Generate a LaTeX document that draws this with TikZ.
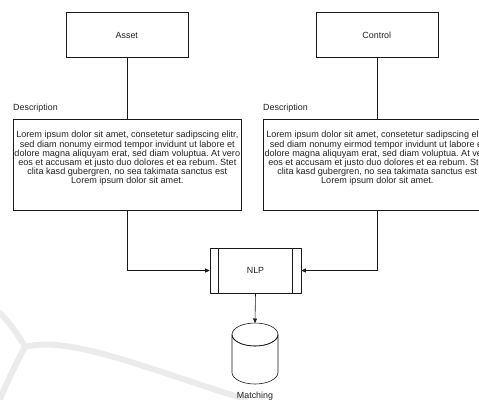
\documentclass[tikz,border=0pt]{standalone}
\usepackage{fontspec}
\setmainfont{Liberation Sans}
\usetikzlibrary{arrows.meta,shapes.geometric}
\definecolor{ln}{HTML}{1A1A1A}
\definecolor{tx}{HTML}{222222}
\definecolor{wm}{HTML}{EBEBEB}
\frenchspacing
\tikzset{
  every node/.style={font=\fontsize{8.9}{9.2}\selectfont, text=tx},
  boxshape/.style={draw=ln, line width=0.6pt, inner sep=0pt},
  descbox/.style={boxshape, minimum width=228pt, minimum height=91pt},
  desctext/.style={align=center, inner sep=0pt, font=\fontsize{9.1}{9.2}\selectfont},
  titlebox/.style={boxshape, minimum width=122pt, minimum height=45pt},
  lab/.style={anchor=west, inner sep=0pt},
  conn/.style={draw=ln, line width=0.6pt, -{Triangle[length=4.5pt,width=4pt]}},
  plain/.style={draw=ln, line width=0.6pt},
}
\begin{document}
\begin{tikzpicture}[x=1pt,y=1pt]
\useasboundingbox (0,0) rectangle (479,-399);
% faint watermark swoosh
\draw[wm, line width=6pt, line cap=round] (0,-313) .. controls (12,-325) and (20,-338) .. (25,-347);
\draw[wm, line width=6pt, line cap=round] (25,-347) .. controls (15,-365) and (6,-385) .. (0,-399);
\draw[wm, line width=6pt, line cap=round] (25,-347) .. controls (70,-335) and (150,-370) .. (245,-399);
% title boxes
\node[titlebox] (asset) at (126.8,-35) {Asset};
\node[titlebox] (control) at (376.8,-35) {Control};
% description labels
\node[lab] (d1) at (13,-108) {Description};
\node[lab] (d2) at (263,-108) {Description};
% description boxes
\node[descbox] (t1) at (127.3,-164.5) {};
\node[descbox] (t2) at (377.3,-164.5) {};
\node[desctext] (t1text) at (127.3,-158.5) {Lorem ipsum dolor sit amet, consetetur sadipscing elitr,\\sed diam nonumy eirmod tempor invidunt ut labore et\\dolore magna aliquyam erat, sed diam voluptua. At vero\\eos et accusam et justo duo dolores et ea rebum. Stet\\clita kasd gubergren, no sea takimata sanctus est\\Lorem ipsum dolor sit amet.};
\node[desctext] (t2text) at (377.3,-158.5) {Lorem ipsum dolor sit amet, consetetur sadipscing elitr,\\sed diam nonumy eirmod tempor invidunt ut labore et\\dolore magna aliquyam erat, sed diam voluptua. At vero\\eos et accusam et justo duo dolores et ea rebum. Stet\\clita kasd gubergren, no sea takimata sanctus est\\Lorem ipsum dolor sit amet.};
% NLP process box
\node[boxshape, minimum width=91pt, minimum height=45pt] (nlp) at (255.5,-270.5) {NLP};
\draw[plain] ([xshift=9pt]nlp.north west) -- ([xshift=9pt]nlp.south west);
\draw[plain] ([xshift=-9pt]nlp.north east) -- ([xshift=-9pt]nlp.south east);
% cylinder
\coordinate (cyltop) at (255,-323);
\draw[plain] (232,-334.5) -- (232,-372.5) arc[start angle=180,end angle=360,x radius=23,y radius=11.5] -- (278,-334.5)
  arc[start angle=0,end angle=360,x radius=23,y radius=11.5];
\draw[plain] (232,-334.5) arc[start angle=180,end angle=360,x radius=23,y radius=11.5];
\node (match) at (255,-396) {Matching};
% connectors
\draw[plain] (asset.south -| t1.north) -- (t1.north);
\draw[plain] (control.south -| t2.north) -- (t2.north);
\draw[conn] (t1.south) |- (nlp.west);
\draw[conn] (t2.south) |- (nlp.east);
\draw[conn] (nlp.south) -- (cyltop);
\end{tikzpicture}
\end{document}
